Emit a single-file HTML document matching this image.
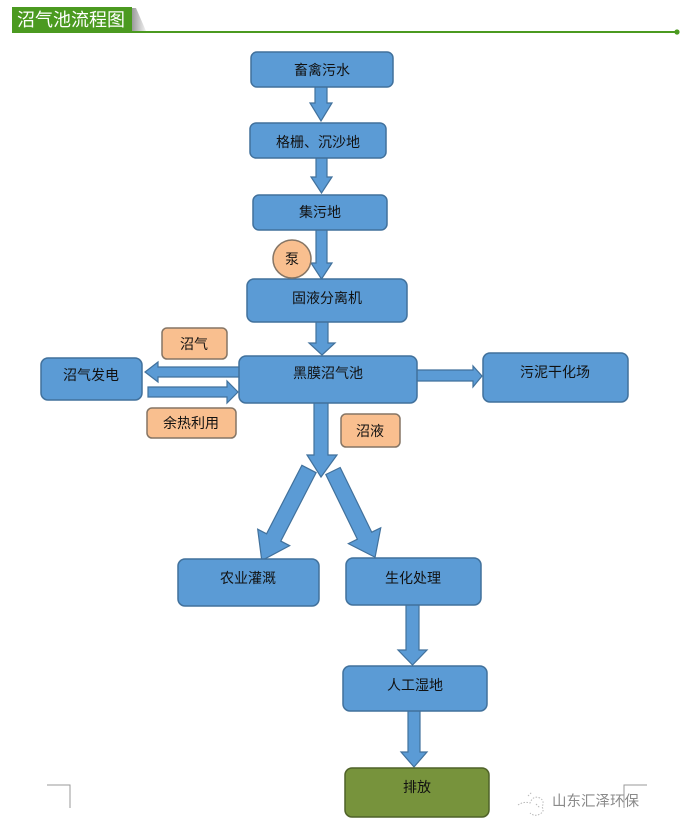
<!DOCTYPE html>
<html>
<head>
<meta charset="utf-8">
<style>
  html,body{margin:0;padding:0;background:#fff;}
  body{width:682px;height:828px;overflow:hidden;}
  svg{display:block;}
  text{font-family:"Liberation Sans","Noto Sans CJK SC","WenQuanYi Zen Hei",sans-serif;}
</style>
</head>
<body>
<svg width="682" height="828" viewBox="0 0 682 828" xmlns="http://www.w3.org/2000/svg">
  <defs>
    <linearGradient id="sh" x1="0" y1="0" x2="1" y2="0">
      <stop offset="0" stop-color="#9a9a9a"/>
      <stop offset="1" stop-color="#f2f2f2"/>
    </linearGradient>
  </defs>
  <rect x="0" y="0" width="682" height="828" fill="#fff"/>

  <!-- Header -->
  <polygon points="132,8 136,8 146,31 132,31" fill="url(#sh)"/>
  <rect x="12" y="7" width="120" height="25" fill="#4b9a20"/>
  <text x="17" y="26" font-size="18" fill="#fff">沼气池流程图</text>
  <rect x="12" y="31" width="665" height="2" fill="#4b9a20"/>
  <circle cx="677" cy="32" r="2.6" fill="#4b9a20"/>

  <g fill="#5b9bd5" stroke="#41719c" stroke-width="1.2">
    <!-- vertical arrows -->
    <polygon points="315,86 327,86 327,103 332,103 321,121 310,103 315,103"/>
    <polygon points="316,157 327,157 327,177 332,177 321.5,193 311,177 316,177"/>
    <polygon points="316,229 327,229 327,263 332,263 321.5,279 311,263 316,263"/>
    <polygon points="316,321 328,321 328,343 335,343 322,355 309,343 316,343"/>
    <polygon points="314,402 328,402 328,455 337,455 321,477 307,455 314,455"/>
    <polygon points="406,604 419,604 419,650 427,650 412.5,665 398,650 406,650"/>
    <polygon points="408,710 420,710 420,752 427,752 414,767 401,752 408,752"/>
    <!-- horizontal arrows -->
    <polygon points="240,367 158,367 158,362 145,372 158,382 158,377 240,377"/>
    <polygon points="148,387 227,387 227,381 238,392 227,403 227,397 148,397"/>
    <polygon points="416,370 473,370 473,366 482,376 473,387 473,381 416,381"/>
    <!-- diagonal arrows -->
    <g transform="translate(309,469) rotate(27.3)">
      <polygon points="-8,0 8,0 8,77 18,77 0,103 -18,77 -8,77"/>
    </g>
    <g transform="translate(333,471) rotate(-26)">
      <polygon points="-8,0 8,0 8,72 18,72 0,96 -18,72 -8,72"/>
    </g>
  </g>

  <!-- Blue boxes -->
  <g fill="#5b9bd5" stroke="#41719c" stroke-width="1.5">
    <rect x="251" y="52" width="142" height="35" rx="6"/>
    <rect x="250" y="123" width="136" height="35" rx="6"/>
    <rect x="253" y="195" width="134" height="35" rx="6"/>
    <rect x="247" y="279" width="160" height="43" rx="7"/>
    <rect x="239" y="356" width="178" height="47" rx="7"/>
    <rect x="41" y="358" width="101" height="42" rx="7"/>
    <rect x="483" y="353" width="145" height="49" rx="7"/>
    <rect x="178" y="559" width="141" height="47" rx="7"/>
    <rect x="346" y="558" width="135" height="47" rx="7"/>
    <rect x="343" y="666" width="144" height="45" rx="7"/>
  </g>
  <rect x="345" y="768" width="144" height="49" rx="7" fill="#77933c" stroke="#4f6228" stroke-width="1.5"/>

  <!-- Orange labels -->
  <g fill="#f9bf8f" stroke="#857565" stroke-width="1.5">
    <circle cx="292" cy="259" r="19"/>
    <rect x="162" y="328" width="65" height="31" rx="5"/>
    <rect x="147" y="408" width="89" height="30" rx="5"/>
    <rect x="341" y="414" width="59" height="33" rx="5"/>
  </g>

  <!-- Text -->
  <g font-size="14" fill="#111" text-anchor="middle" dominant-baseline="central">
    <text x="322" y="70">畜禽污水</text>
    <text x="318" y="142">格栅、沉沙地</text>
    <text x="320" y="212">集污地</text>
    <text x="292" y="259">泵</text>
    <text x="327" y="298">固液分离机</text>
    <text x="328" y="373">黑膜沼气池</text>
    <text x="91" y="375">沼气发电</text>
    <text x="555" y="372">污泥干化场</text>
    <text x="194" y="344">沼气</text>
    <text x="191" y="423">余热利用</text>
    <text x="370" y="431">沼液</text>
    <text x="248" y="578">农业灌溉</text>
    <text x="413" y="578">生化处理</text>
    <text x="415" y="685">人工湿地</text>
    <text x="417" y="787">排放</text>
  </g>

  <!-- Corner marks -->
  <polyline points="47,785 70,785 70,808" fill="none" stroke="#9a9a9a" stroke-width="1"/>
  <polyline points="647,785 624,785 624,808" fill="none" stroke="#9a9a9a" stroke-width="1"/>

  <!-- Watermark -->
  <g stroke="#b8b8b8" stroke-width="1" fill="none" stroke-dasharray="1.5,1.5">
    <path d="M518,805 q6,-4 12,-2 q3,-8 10,-5 q5,3 2,9 q3,4 -2,7 q-5,3 -10,-1"/>
    <path d="M528,796 l4,-4 M536,804 l4,4"/>
  </g>
  <text x="552" y="802" font-size="14.5" fill="#8a8a8a" dominant-baseline="central">山东汇泽环保</text>
</svg>
</body>
</html>
